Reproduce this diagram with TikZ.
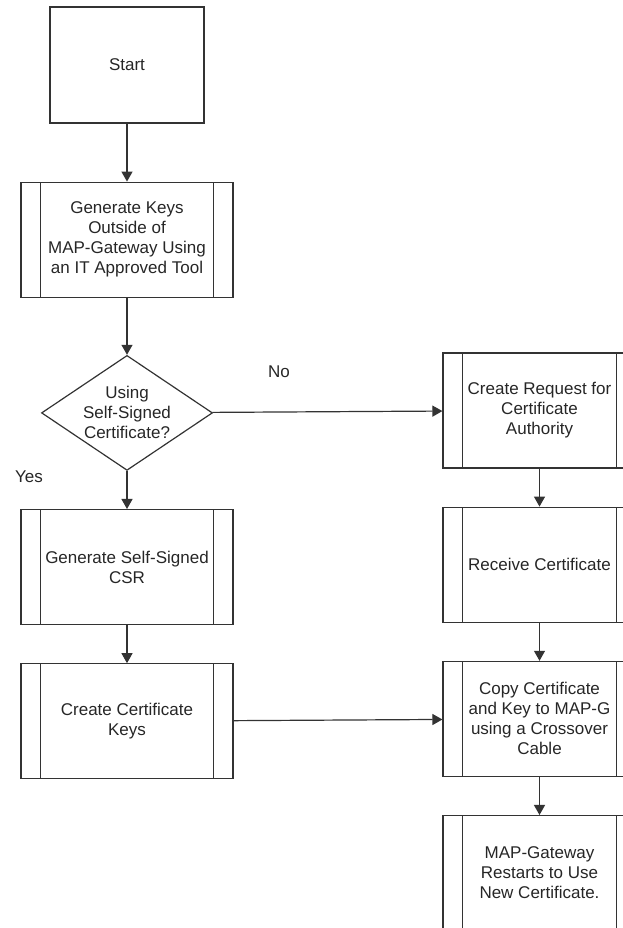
\documentclass[tikz,border=0pt]{standalone}
\usepackage{fontspec}
\setmainfont{Liberation Sans}
\usetikzlibrary{arrows.meta, positioning, shapes.geometric}

\tikzset{
  flow/.style={draw=black!80, line width=1.2pt, text=black!85, align=center,
    font=\fontsize{17}{20}\selectfont, inner sep=0pt},
  startbox/.style={flow, rectangle, minimum width=154pt, minimum height=116pt},
  predef/.style={flow, rectangle, minimum height=115pt,
    path picture={
      \draw[black!80, line width=1.2pt] ([xshift=19.5pt]path picture bounding box.north west) -- ([xshift=19.5pt]path picture bounding box.south west);
      \draw[black!80, line width=1.2pt] ([xshift=-19.5pt]path picture bounding box.north east) -- ([xshift=-19.5pt]path picture bounding box.south east);
    }},
  leftbox/.style={predef, minimum width=212pt},
  rightbox/.style={predef, minimum width=193pt},
  decision/.style={flow, diamond, aspect=1.5, minimum width=171pt, minimum height=115pt},
  flowarrow/.style={draw=black!80, line width=1.2pt, -{Triangle[length=10pt,width=11pt]}},
  answer/.style={text=black!85, font=\fontsize{17}{20}\selectfont}
}

\begin{document}
\begin{tikzpicture}[x=1pt, y=1pt]
\useasboundingbox (0,0) rectangle (623,928);
\node[startbox] (start) at (127,863) {Start};
\node[leftbox, below=58pt of start] (keys) {Generate Keys\\Outside of\\MAP-Gateway Using\\an IT Approved Tool};
\node[decision, below=57pt of keys] (decide) {Using\\Self-Signed\\Certificate?};
\node[leftbox, below=38pt of decide] (csr) {Generate Self-Signed\\CSR};
\node[leftbox, below=38pt of csr] (ckeys) {Create Certificate\\Keys};
\node[rightbox] (request) at (539.5,517.5) {Create Request for\\Certificate\\Authority};
\node[rightbox, below=38pt of request] (receive) {Receive Certificate};
\node[rightbox, below=38pt of receive] (copy) {Copy Certificate\\and Key to MAP-G\\using a Crossover\\Cable};
\node[rightbox, below=38pt of copy] (restart) {MAP-Gateway\\Restarts to Use\\New Certificate.};
\node[answer] (no) at (279,556) {No};
\node[answer] (yes) at (29,451) {Yes};
\draw[flowarrow] (start) -- (keys);
\draw[flowarrow] (keys) -- (decide);
\draw[flowarrow] (decide) -- (csr);
\draw[flowarrow] (csr) -- (ckeys);
\draw[flowarrow] (decide) -- (request);
\draw[flowarrow] (request) -- (receive);
\draw[flowarrow] (receive) -- (copy);
\draw[flowarrow] (ckeys) -- (copy);
\draw[flowarrow] (copy) -- (restart);
\end{tikzpicture}
\end{document}
